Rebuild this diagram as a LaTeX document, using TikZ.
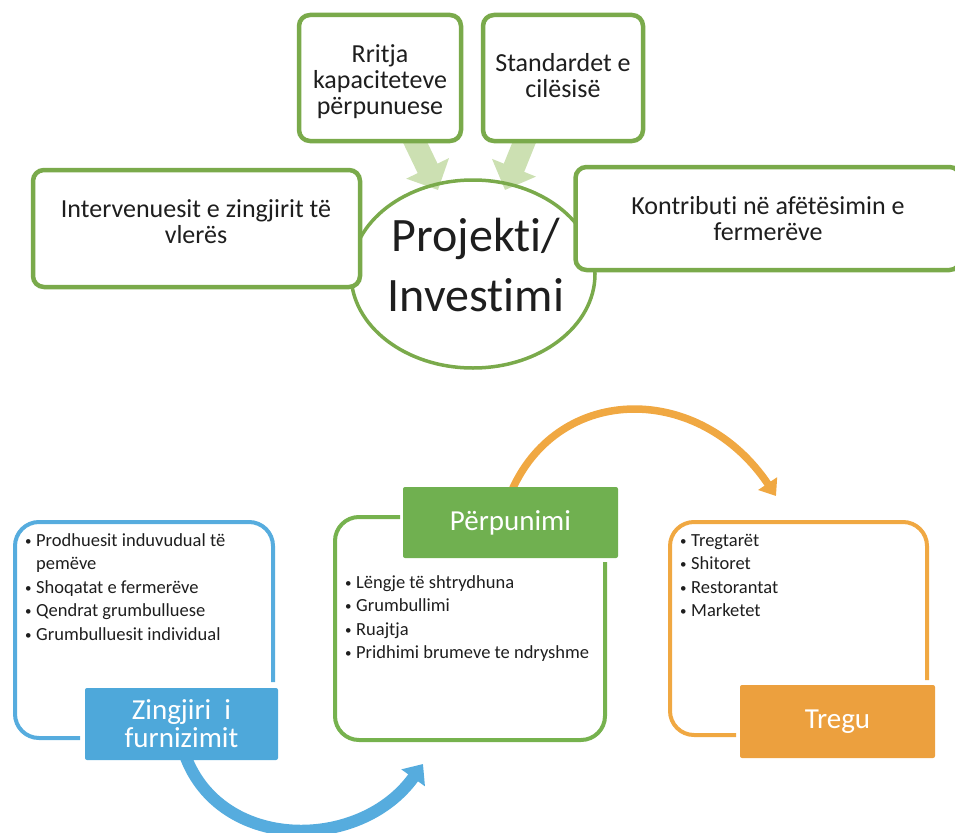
\documentclass[tikz,border=0pt]{standalone}
\usepackage{fontspec}
\setmainfont{Carlito}[Ligatures=NoCommon]
\usetikzlibrary{arrows.meta,shapes.geometric}
\definecolor{gbord}{RGB}{122,170,75}
\definecolor{garr}{RGB}{204,224,178}
\definecolor{bblue}{RGB}{86,172,222}
\definecolor{fblue}{RGB}{78,168,218}
\definecolor{bgreen}{RGB}{118,178,78}
\definecolor{fgreen}{RGB}{112,176,80}
\definecolor{borange}{RGB}{240,168,66}
\definecolor{forange}{RGB}{236,160,62}
\definecolor{txt}{RGB}{30,30,30}
\newcommand{\mybul}{\raisebox{1pt}{\fontsize{13}{13}\selectfont\textbullet}}
\begin{document}
\begin{tikzpicture}[x=1pt,y=-1pt,
  topbox/.style={draw=gbord,line width=4.5pt,rounded corners=11pt,fill=white,
    text=txt,align=center,font=\fontsize{26}{26}\selectfont,inner sep=0pt},
  toptxt/.style={text=txt,align=center,font=\fontsize{26}{26}\selectfont,inner sep=0pt},
  bigtxt/.style={text=txt,align=center,font=\fontsize{48}{60}\selectfont},
  softarrow/.style={garr,line width=22pt,-{Triangle[width=46pt,length=24pt]}},
  header/.style={text=white,align=center,font=\fontsize{29}{28}\selectfont,inner sep=0pt,rounded corners=2pt},
  listtxt/.style={text=txt,anchor=base west,inner sep=0pt,font=\fontsize{18.5}{23.5}\selectfont},
  outline/.style={line width=4pt,rounded corners=24pt},
]
\useasboundingbox (0,0) rectangle (955,832);

% soft arrows to the ellipse
\coordinate (sa1) at (413,138);
\coordinate (sa2) at (438,190);
\coordinate (sb1) at (526,138);
\coordinate (sb2) at (505,190);
\draw[softarrow] (sa1) -- (sa2);
\draw[softarrow] (sb1) -- (sb2);

% central ellipse
\node[draw=gbord,line width=3.5pt,ellipse,minimum width=244pt,minimum height=188pt,inner sep=0pt] (proj) at (473,274) {};
\node[bigtxt] (projtxt) at (476,265) {Projekti/\\Investimi};

% top boxes
\node[topbox,minimum width=162pt,minimum height=126pt] (rritja) at (380,78) {};
\node[toptxt] (rritjatxt) at (380,82) {Rritja\\kapaciteteve\\përpunuese};
\node[topbox,minimum width=160pt,minimum height=126pt] (stand) at (563,78) {};
\node[toptxt] (standtxt) at (563,76) {Standardet e\\cilësisë};
\node[topbox,minimum width=327pt,minimum height=117pt] (interv) at (196.5,228.5) {};
\node[toptxt] (intervtxt) at (196,222) {Intervenuesit e zingjirit të\\vlerës};
\node[topbox,minimum width=385pt,minimum height=103pt] (kontr) at (768,218.5) {Kontributi në afëtësimin e\\fermerëve};

% bottom curved arrows
\coordinate (oa1) at (512,490);
\coordinate (oa2) at (776,496);
\draw[borange,line width=7.5pt,-{Triangle[width=22pt,length=15pt]}] (oa1) .. controls (560,383) and (700,383) .. (oa2);
\coordinate (ba1) at (185,755);
\coordinate (ba2) at (423,764);
\draw[bblue,line width=12pt,-{Triangle[width=28pt,length=17pt]}] (ba1) .. controls (220,852) and (360,852) .. (ba2);

% supply chain (blue)
\draw[bblue,outline] (80,738) -- (15,738) -- (15,522) -- (273,522) -- (273,682);
\node[header,fill=fblue,minimum width=193pt,minimum height=72pt] (zing) at (181.5,724) {Zingjiri~~i\\furnizimit};
\node[listtxt] (zlist) at (25,546) {\begin{tabular}[t]{@{}l@{\hspace{4.5pt}}l@{}}
\mybul & Prodhuesit induvudual të\\
 & pemëve\\
\mybul & Shoqatat e fermerëve\\
\mybul & Qendrat grumbulluese\\
\mybul & Grumbulluesit individual
\end{tabular}};

% processing (green)
\draw[bgreen,outline] (400,517) -- (335,517) -- (335,740) -- (605,740) -- (605,562);
\node[header,fill=fgreen,minimum width=215pt,minimum height=71pt] (perp) at (510.5,522.5) {Përpunimi};
\node[listtxt] (plist) at (345,588) {\begin{tabular}[t]{@{}l@{\hspace{4.5pt}}l@{}}
\mybul & Lëngje të shtrydhuna\\
\mybul & Grumbullimi\\
\mybul & Ruajtja\\
\mybul & Pridhimi brumeve te ndryshme
\end{tabular}};

% market (orange)
\draw[borange,outline] (736,735) -- (670,735) -- (670,522) -- (927,522) -- (927,680);
\node[header,fill=forange,minimum width=195pt,minimum height=73pt] (treg) at (837.5,721.5) {Tregu};
\node[listtxt] (tlist) at (680,546) {\begin{tabular}[t]{@{}l@{\hspace{4.5pt}}l@{}}
\mybul & Tregtarët\\
\mybul & Shitoret\\
\mybul & Restorantat\\
\mybul & Marketet
\end{tabular}};
\end{tikzpicture}
\end{document}
